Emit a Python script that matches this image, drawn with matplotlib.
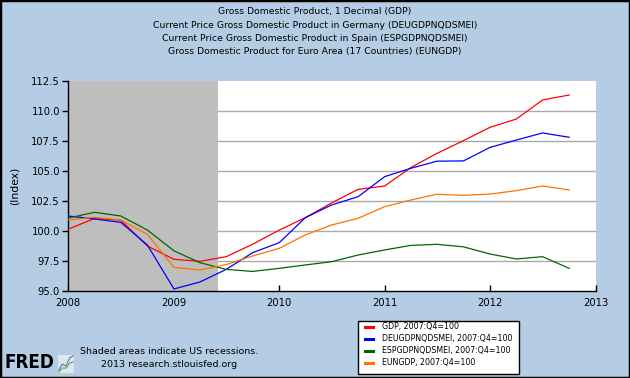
import matplotlib
matplotlib.use("Agg")
import matplotlib.pyplot as plt
import pandas as pd
from matplotlib.patches import Rectangle
from matplotlib.lines import Line2D

plt.rcParams['font.family'] = ['DejaVu Sans']

quarters = ["2008-01-01", "2008-04-01", "2008-07-01", "2008-10-01",
            "2009-01-01", "2009-04-01", "2009-07-01", "2009-10-01",
            "2010-01-01", "2010-04-01", "2010-07-01", "2010-10-01",
            "2011-01-01", "2011-04-01", "2011-07-01", "2011-10-01",
            "2012-01-01", "2012-04-01", "2012-07-01", "2012-10-01"]

gdp = [100.15, 101.05, 100.9, 98.75, 97.64, 97.47, 97.86, 98.9, 100.08, 101.11,
       102.34, 103.47, 103.75, 105.28, 106.47, 107.53, 108.64, 109.33, 110.92, 111.33]
deu = [101.25, 101.0, 100.72, 98.83, 95.17, 95.75, 96.8, 98.2, 99.03, 101.11,
       102.17, 102.86, 104.53, 105.22, 105.82, 105.84, 106.97, 107.58, 108.17, 107.81]
esp = [101.08, 101.56, 101.25, 100.08, 98.35, 97.36, 96.8, 96.63, 96.89, 97.17,
       97.44, 98.0, 98.42, 98.8, 98.89, 98.68, 98.08, 97.67, 97.86, 96.89]
eun = [100.92, 101.14, 100.92, 99.72, 96.97, 96.75, 97.2, 97.92, 98.56, 99.67,
       100.5, 101.06, 102.03, 102.58, 103.06, 102.97, 103.08, 103.36, 103.75, 103.42]

series_labels = ["GDP, 2007:Q4=100", "DEUGDPNQDSMEI, 2007:Q4=100",
                 "ESPGDPNQDSMEI, 2007:Q4=100", "EUNGDP, 2007:Q4=100"]
series_colors = ["#FF0000", "#0000FF", "#006600", "#FF7200"]

title_lines = ["Gross Domestic Product, 1 Decimal (GDP)",
               "Current Price Gross Domestic Product in Germany (DEUGDPNQDSMEI)",
               "Current Price Gross Domestic Product in Spain (ESPGDPNQDSMEI)",
               "Gross Domestic Product for Euro Area (17 Countries) (EUNGDP)"]

yticks = [95.0, 97.5, 100.0, 102.5, 105.0, 107.5, 110.0, 112.5]
year_ticks = ["2008", "2009", "2010", "2011", "2012", "2013"]
recession = ("2008-01-01", "2009-06-01")

W, H = 630, 378
bg = "#B4CDE4"
fig = plt.figure(figsize=(6.3, 3.78), dpi=100, facecolor=bg)
fig.patches.append(Rectangle((0, 0), 1, 1, transform=fig.transFigure,
                             fill=False, edgecolor="black", linewidth=2.5, zorder=10))


def fx(px):
    return px / W


def fy(py):
    return 1 - py / H


ax = fig.add_axes([fx(68.3), fy(291), fx(595.7) - fx(68.3), fy(81) - fy(291)])
ax.set_facecolor("white")

x = pd.to_datetime(quarters)
for vals, c, lab in zip([gdp, deu, esp, eun], series_colors, series_labels):
    ax.plot(x, vals, color=c, lw=0.9, label=lab, zorder=3)

ax.axvspan(pd.Timestamp(recession[0]), pd.Timestamp(recession[1]),
           facecolor="#BEBEBE", edgecolor="none", zorder=1)

ax.set_xlim(pd.Timestamp("2008-01-01"), pd.Timestamp("2013-01-01"))
ax.set_ylim(95.0, 112.5)
ax.set_yticks(yticks)
ax.set_yticklabels([f"{v:.1f}" for v in yticks])
ax.set_xticks([pd.Timestamp(f"{y}-01-01") for y in year_ticks])
ax.set_xticklabels(year_ticks)

ax.set_axisbelow(True)
ax.yaxis.grid(True, color="#AAAAAA", lw=1.0, zorder=0)
gl = ax.get_ygridlines()
gl[0].set_visible(False)
gl[-1].set_visible(False)

for s in ["top", "right"]:
    ax.spines[s].set_visible(False)
ax.spines["left"].set_linewidth(1.0)
ax.spines["bottom"].set_linewidth(1.0)
ax.tick_params(axis="y", direction="out", length=4, width=1, labelsize=7.2, pad=2)
ax.tick_params(axis="x", direction="in", length=4, width=1, labelsize=7.2, pad=5)
ax.set_ylabel("(Index)", fontsize=7.8, labelpad=8)

for i, t in enumerate(title_lines):
    fig.text(0.5, fy(11.7 + i * 13.35), t, ha="center", va="center", fontsize=6.7)

# legend box drawn manually in figure pixels
fig.patches.append(Rectangle((fx(358), fy(374)), fx(519) - fx(358), fy(321) - fy(374),
                             transform=fig.transFigure, facecolor="white",
                             edgecolor="black", linewidth=1.0, zorder=5))
for i, (c, lab) in enumerate(zip(series_colors, series_labels)):
    yy = fy(326.7 + i * 12.0)
    fig.lines.append(Line2D([fx(365), fx(373)], [yy, yy], transform=fig.transFigure,
                            color=c, lw=2.2, zorder=6))
    fig.text(fx(382), yy, lab, ha="left", va="center", fontsize=5.7, zorder=6)

fig.text(fx(169), fy(358), "Shaded areas indicate US recessions.\n2013 research.stlouisfed.org",
         ha="center", va="center", fontsize=6.8, linespacing=1.45)
fig.text(fx(5), fy(372.5), "FRED", ha="left", va="bottom", fontsize=13.5,
         fontweight="bold", fontstretch="condensed", color="black")
# small chart icon
iax = fig.add_axes([fx(58), fy(373), fx(16), fx(0) + 18 / H])
iax.set_facecolor("#DDE6EE")
iax.plot([0, 1, 2, 3, 4], [0.2, 0.5, 0.4, 0.8, 0.9], color="#4E7FAF", lw=0.8)
iax.plot([0, 1, 2, 3, 4], [0.1, 0.3, 0.3, 0.55, 0.6], color="#6AA050", lw=0.8)
iax.set_xticks([]); iax.set_yticks([])
for s in iax.spines.values():
    s.set_visible(False)

fig.savefig("out.png", dpi=100, facecolor=bg)
